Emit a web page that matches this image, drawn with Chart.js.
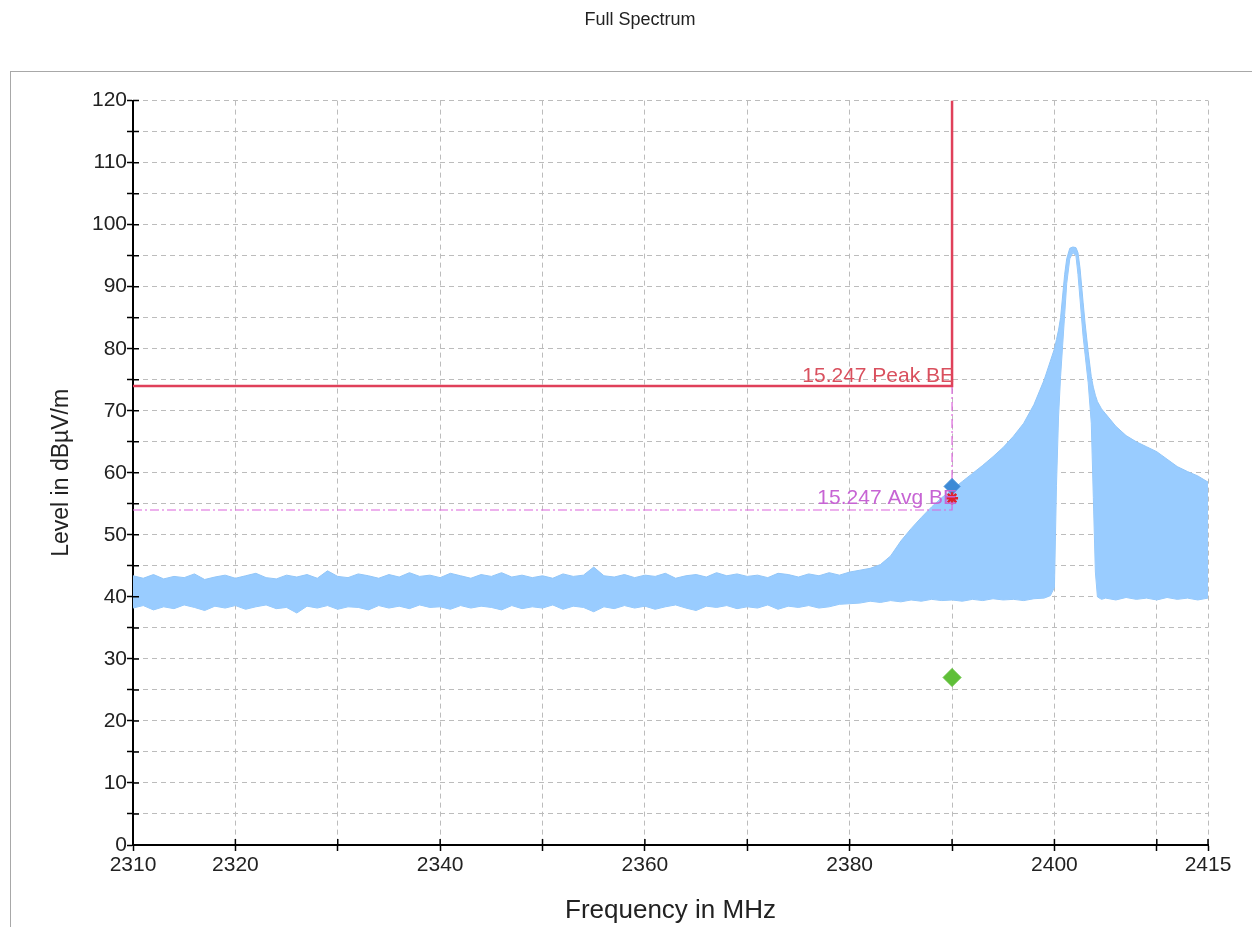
<!DOCTYPE html>
<html>
<head>
<meta charset="utf-8">
<script src="https://cdn.jsdelivr.net/npm/chart.js@4.4.0/dist/chart.umd.min.js"></script>
<style>
  html, body { margin: 0; padding: 0; background: #fff; overflow: hidden; }
  #marco { position: absolute; left: 10px; top: 71px; width: 1260px; height: 900px; border: 1px solid #a8a8a8; }
  #graficoEspectro { position: absolute; left: 0; top: 0; }
</style>
</head>
<body>
<div id="marco"></div>
<canvas id="graficoEspectro" width="1252" height="927"></canvas>
<script>
// Frecuencias (MHz) y envolventes del espectro (dBµV/m)
const frecuencias = [
  2310, 2311, 2312, 2313, 2314, 2315, 2316, 2317, 2318, 2319,
  2320, 2321, 2322, 2323, 2324, 2325, 2326, 2327, 2328, 2329,
  2330, 2331, 2332, 2333, 2334, 2335, 2336, 2337, 2338, 2339,
  2340, 2341, 2342, 2343, 2344, 2345, 2346, 2347, 2348, 2349,
  2350, 2351, 2352, 2353, 2354, 2355, 2356, 2357, 2358, 2359,
  2360, 2361, 2362, 2363, 2364, 2365, 2366, 2367, 2368, 2369,
  2370, 2371, 2372, 2373, 2374, 2375, 2376, 2377, 2378, 2379,
  2380, 2381, 2382, 2383, 2384, 2385, 2386, 2387, 2388, 2389,
  2390, 2391, 2392, 2393, 2394, 2395, 2396, 2397, 2398, 2399,
  2399.6, 2400.0, 2400.2, 2400.4, 2400.6, 2400.8, 2401.0, 2401.2, 2401.5, 2401.8,
  2402.1, 2402.3, 2402.5, 2402.8, 2403.0, 2403.3, 2403.6, 2403.8, 2404.0, 2404.2,
  2404.6, 2405, 2406, 2407, 2408, 2409, 2410, 2411, 2412, 2413,
  2414, 2415
];

const nivelMax = [
  43.4, 43.0, 43.6, 42.9, 43.3, 43.1, 43.7, 42.8, 43.2, 43.5,
  43.0, 43.4, 43.8, 43.1, 42.9, 43.5, 43.2, 43.6, 43.0, 44.2,
  43.3, 43.1, 43.7, 43.4, 43.0, 43.6, 43.2, 43.9, 43.3, 43.5,
  43.1, 43.8, 43.4, 43.0, 43.6, 43.3, 43.9, 43.2, 43.5, 43.1,
  43.4, 43.0, 43.7, 43.3, 43.5, 44.8, 43.4, 43.2, 43.6, 43.1,
  43.5, 43.3, 43.8, 43.0, 43.4, 43.6, 43.2, 43.9, 43.4, 43.7,
  43.3, 43.5, 43.1, 43.8, 43.6, 43.2, 43.7, 43.4, 43.9, 43.5,
  44.0, 44.3, 44.6, 45.2, 46.6, 49.0, 51.0, 52.8, 54.5, 56.0,
  57.3, 58.6, 59.9, 61.2, 62.6, 64.1, 65.9, 68.0, 71.0, 75.0,
  78.0, 80.0, 81.5, 83.0, 85.0, 88.5, 92.0, 94.5, 96.2, 96.4,
  96.3, 95.5, 93.0, 87.5, 84.0, 79.5, 75.5, 73.8, 72.5, 71.5,
  70.3, 69.5, 67.5, 66.0, 65.0, 64.2, 63.4, 62.2, 61.0, 60.2,
  59.5, 58.5
];

const nivelMin = [
  38.2, 38.6, 37.9, 38.4, 38.1, 38.7, 38.3, 37.8, 38.5, 38.2,
  38.6, 38.0, 38.4, 38.7, 38.1, 38.3, 37.4, 38.5, 38.2, 38.6,
  38.0, 38.4, 38.3, 37.9, 38.6, 38.2, 38.5, 38.1, 38.7, 38.3,
  38.4, 38.0, 38.6, 38.2, 38.5, 38.3, 37.9, 38.6, 38.1, 38.4,
  38.2, 38.7, 38.0, 38.5, 38.3, 37.6, 38.4, 38.1, 38.6, 38.2,
  38.5, 38.0, 38.4, 38.7, 38.2, 37.8, 38.5, 38.3, 38.6, 38.1,
  38.4, 38.2, 38.7, 38.0, 38.5, 38.3, 38.6, 38.2, 38.4, 38.8,
  38.9, 39.0, 39.3, 39.1, 39.4, 39.2, 39.5, 39.3, 39.6, 39.4,
  39.5, 39.3, 39.6, 39.4, 39.7, 39.5, 39.6, 39.4, 39.7, 39.8,
  40.2, 41.5, 58.0, 69.0, 75.5, 80.5, 85.5, 90.5, 94.5, 95.5,
  95.0, 92.0, 88.0, 82.0, 79.0, 74.5, 68.0, 56.0, 44.0, 40.0,
  39.6, 39.8, 39.5, 39.9, 39.6, 39.8, 39.5, 39.9, 39.6, 39.8,
  39.5, 39.8
];

// Límites 15.247 y marcadores
const frecuenciaLimite = 2390;
const limitePico = 74;
const limitePromedio = 54;
const textoPico = '15.247 Peak BE';
const textoPromedio = '15.247 Avg BE';
const marcadorPico = [{ x: 2390, y: 57.8 }];
const marcadorPromedio = [{ x: 2390, y: 55.9 }];
const marcadorVerde = [{ x: 2390, y: 27.0 }];

// Ejes
const marcasX = [2310, 2320, 2330, 2340, 2350, 2360, 2370, 2380, 2390, 2400, 2410, 2415];
const etiquetasX = [2310, 2320, 2340, 2360, 2380, 2400, 2415];
const fuente = '"Liberation Sans", Arial, sans-serif';

const puntosMax = frecuencias.map((f, i) => ({ x: f, y: nivelMax[i] }));
const puntosMin = frecuencias.map((f, i) => ({ x: f, y: nivelMin[i] }));
const lineaPico = [
  { x: 2310, y: limitePico },
  { x: frecuenciaLimite, y: limitePico },
  { x: frecuenciaLimite, y: 120 }
];
const lineaPromedio = [
  { x: 2310, y: limitePromedio },
  { x: frecuenciaLimite, y: limitePromedio },
  { x: frecuenciaLimite, y: limitePico }
];

// Marcas cortas hacia dentro del área (como en el original)
const marcasInternas = {
  id: 'marcasInternas',
  afterDraw(chart) {
    const { ctx, chartArea, scales: { x, y } } = chart;
    ctx.save();
    ctx.strokeStyle = '#000';
    ctx.lineWidth = 1.5;
    ctx.beginPath();
    x.ticks.forEach(t => {
      const px = x.getPixelForValue(t.value);
      ctx.moveTo(px, chartArea.bottom);
      ctx.lineTo(px, chartArea.bottom - 6);
    });
    y.ticks.forEach(t => {
      const py = y.getPixelForValue(t.value);
      ctx.moveTo(chartArea.left, py);
      ctx.lineTo(chartArea.left + 6, py);
    });
    ctx.stroke();
    ctx.restore();
  }
};

// Textos de los límites
const etiquetasLimite = {
  id: 'etiquetasLimite',
  afterDatasetsDraw(chart) {
    const { ctx, scales: { x, y } } = chart;
    const px = x.getPixelForValue(frecuenciaLimite);
    ctx.save();
    ctx.font = '21px ' + fuente;
    ctx.textAlign = 'right';
    ctx.textBaseline = 'alphabetic';
    ctx.fillStyle = '#d9505e';
    ctx.fillText(textoPico, px + 2, y.getPixelForValue(limitePico) - 4);
    ctx.fillStyle = '#c764d4';
    ctx.fillText(textoPromedio, px + 5, y.getPixelForValue(limitePromedio) - 6);
    ctx.restore();
  }
};

const config = {
  type: 'line',
  data: {
    datasets: [
      {
        data: marcadorPromedio, showLine: false, pointStyle: 'star',
        pointRadius: 6, borderColor: '#e0202c', backgroundColor: '#e0202c', pointBorderWidth: 2.5, order: 0
      },
      {
        data: marcadorPico, showLine: false, pointStyle: 'rectRot',
        pointRadius: 8, borderColor: '#3d8ad6', backgroundColor: '#3d8ad6', order: 1
      },
      {
        data: marcadorVerde, showLine: false, pointStyle: 'rectRot',
        pointRadius: 9, borderColor: '#5fbf38', backgroundColor: '#5fbf38', order: 1
      },
      {
        data: lineaPico, borderColor: '#e0405a', borderWidth: 2.5,
        pointRadius: 0, fill: false, tension: 0, order: 2
      },
      {
        data: lineaPromedio, borderColor: '#dc64dc', borderWidth: 1.2, borderDash: [9, 3, 2, 3],
        pointRadius: 0, fill: false, tension: 0, order: 2
      },
      {
        data: puntosMax, borderColor: '#92c6f8', borderWidth: 1, backgroundColor: '#99ccff',
        fill: '+1', pointRadius: 0, tension: 0, order: 3
      },
      {
        data: puntosMin, borderColor: '#92c6f8', borderWidth: 1,
        fill: false, pointRadius: 0, tension: 0, order: 3
      }
    ]
  },
  options: {
    responsive: false,
    animation: false,
    layout: { padding: { left: 28, right: 0, top: 0, bottom: 0 } },
    plugins: {
      legend: { display: false },
      tooltip: { enabled: false },
      title: {
        display: true,
        text: 'Full Spectrum',
        color: '#222',
        font: { family: fuente, size: 18, weight: 'normal' },
        padding: { top: 9, bottom: 70 }
      }
    },
    scales: {
      x: {
        type: 'linear',
        min: 2310,
        max: 2415,
        afterBuildTicks: s => { s.ticks = marcasX.map(v => ({ value: v })); },
        afterFit: s => { s.height = 82; },
        ticks: {
          autoSkip: false,
          maxRotation: 0,
          padding: 2,
          color: '#222',
          font: { family: fuente, size: 21 },
          callback: v => etiquetasX.includes(v) ? String(v) : ''
        },
        grid: { color: '#bcbcbc', lineWidth: 1, tickColor: '#000', tickLength: 6, tickWidth: 1.5 },
        border: { color: '#000', width: 2, dash: [5, 4] },
        title: {
          display: true,
          text: 'Frequency in MHz',
          color: '#222',
          font: { family: fuente, size: 26 },
          padding: { top: 0, bottom: 1 }
        }
      },
      y: {
        min: 0,
        max: 120,
        afterFit: s => { s.width = 105; },
        ticks: {
          stepSize: 5,
          padding: 0,
          color: '#222',
          font: { family: fuente, size: 21 },
          callback: v => v % 10 === 0 ? String(v) : ''
        },
        grid: { color: '#bcbcbc', lineWidth: 1, tickColor: '#000', tickLength: 6, tickWidth: 1.5 },
        border: { color: '#000', width: 2, dash: [5, 4] },
        title: {
          display: true,
          text: 'Level in dBµV/m',
          color: '#222',
          font: { family: fuente, size: 23 },
          padding: { top: 20, bottom: 0 }
        }
      },
      margenDerecho: {
        type: 'linear',
        position: 'right',
        min: 0,
        max: 1,
        afterFit: s => { s.width = 44; },
        ticks: { display: false },
        grid: { display: false, drawTicks: false },
        border: { display: false }
      }
    }
  },
  plugins: [marcasInternas, etiquetasLimite]
};

const ctx = document.getElementById('graficoEspectro').getContext('2d');
new Chart(ctx, config);
</script>
</body>
</html>
